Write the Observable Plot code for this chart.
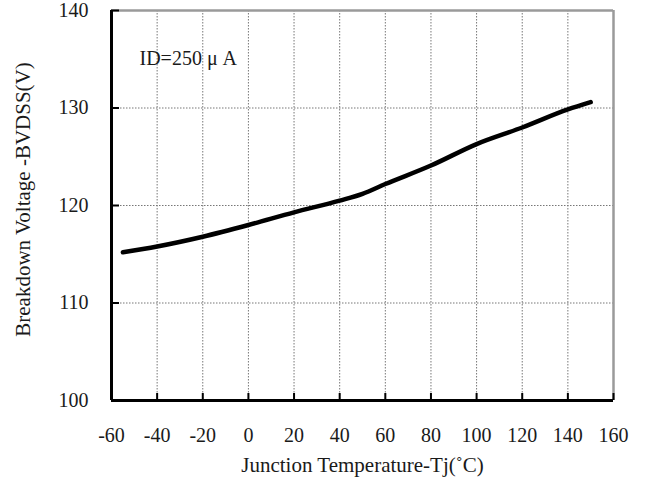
<!DOCTYPE html>
<html>
<head>
<meta charset="utf-8">
<script src="https://cdn.jsdelivr.net/npm/d3@7"></script>
<script src="https://cdn.jsdelivr.net/npm/@observablehq/plot@0.6"></script>
<style>
  html, body { margin: 0; padding: 0; background: white; }
</style>
</head>
<body>
<div id="chart"></div>
<script>
// Data
const temperature = [-55, -40, -20, 0, 20, 40, 50, 60, 80, 100, 120, 140, 150];
const breakdownVoltage = [115.2, 115.8, 116.8, 118.0, 119.3, 120.5, 121.2, 122.2, 124.1, 126.3, 128.0, 129.85, 130.6];
const xTicks = [-60, -40, -20, 0, 20, 40, 60, 80, 100, 120, 140, 160];
const yTicks = [100, 110, 120, 130, 140];
const xDomain = [-60, 160];
const yDomain = [100, 140];
const xLabel = "Junction Temperature-Tj(\u02DAC)";
const yLabel = "Breakdown Voltage -BVDSS(V)";
const annotation = "ID=250 \u03BC A";

const data = temperature.map((t, i) => ({t, v: breakdownVoltage[i]}));

const chart = Plot.plot({
  width: 646,
  height: 481,
  marginLeft: 111,
  marginRight: 33,
  marginTop: 10,
  marginBottom: 81,
  style: {fontFamily: "'Liberation Serif', 'DejaVu Serif', serif", color: "#1a1a1a", background: "white"},
  x: {domain: xDomain},
  y: {domain: yDomain},
  marks: [
    Plot.gridX(xTicks, {stroke: "#777", strokeOpacity: 1, strokeDasharray: "1.5,1.5"}),
    Plot.gridY(yTicks, {stroke: "#777", strokeOpacity: 1, strokeDasharray: "1.5,1.5"}),
    Plot.ruleY([yDomain[1]], {stroke: "#9a9a9a", strokeWidth: 2.5}),
    Plot.ruleX([xDomain[1]], {stroke: "#9a9a9a", strokeWidth: 2.5}),
    Plot.ruleX([xDomain[0]], {stroke: "black", strokeWidth: 3}),
    Plot.ruleY([yDomain[0]], {stroke: "black", strokeWidth: 3}),
    Plot.axisX({ticks: xTicks, tickSize: 7, dy: -7, tickPadding: 27, strokeWidth: 2, stroke: "black", fontSize: 20, label: null, tickFormat: d => String(d)}),
    Plot.axisY({ticks: yTicks, tickSize: 8, dx: 8, tickPadding: 23, strokeWidth: 2, stroke: "black", fontSize: 20, label: null, tickFormat: d => String(d)}),
    Plot.line(data, {x: "t", y: "v", stroke: "black", strokeWidth: 4.5, curve: "monotone-x"}),
    Plot.text([annotation], {frameAnchor: "top-left", textAnchor: "start", dx: 28, dy: 40, fontSize: 20, fill: "#1a1a1a"}),
    Plot.text([xLabel], {frameAnchor: "bottom", textAnchor: "middle", lineAnchor: "middle", dy: 65, fontSize: 21, fill: "#1a1a1a"}),
    Plot.text([yLabel], {frameAnchor: "left", textAnchor: "middle", lineAnchor: "middle", rotate: -90, dx: -88, dy: -6, fontSize: 21, fill: "#1a1a1a"})
  ]
});
document.getElementById("chart").appendChild(chart);
</script>
</body>
</html>
